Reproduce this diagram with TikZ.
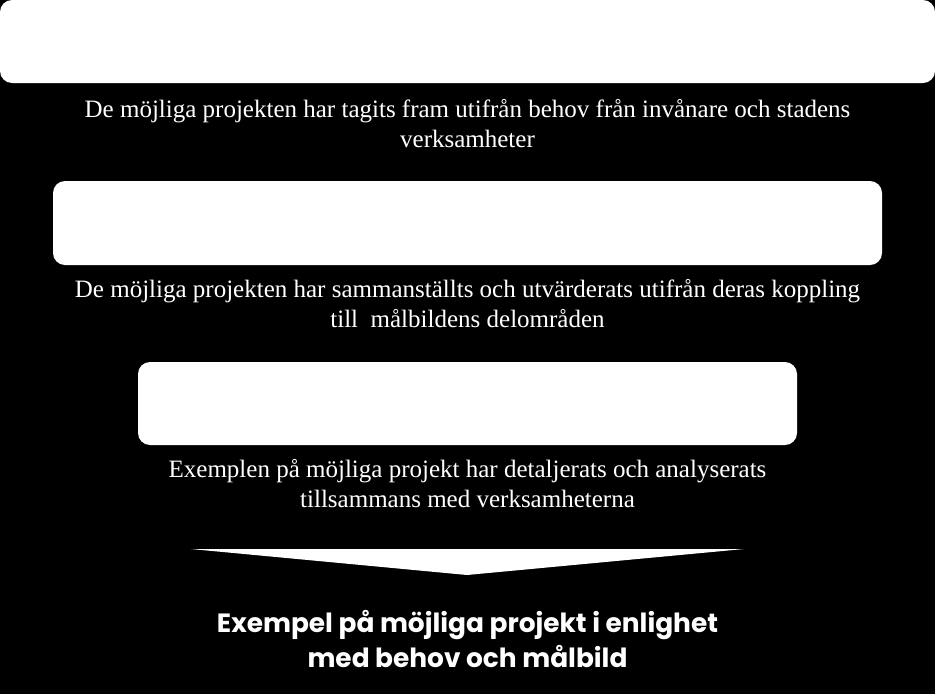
\documentclass[tikz,border=0pt]{standalone}
\usepackage{fontspec}
\setmainfont{Liberation Serif}
\newfontfamily\boldsans{Poppins}[UprightFont=* Bold]
\begin{document}
\begin{tikzpicture}[x=1pt,y=-1pt,
  stagebox/.style={fill=white,draw=none,rounded corners=12pt,inner sep=0pt},
  desc/.style={text=white,align=center,inner sep=0pt,anchor=base,
    font=\fontsize{25}{29.5}\selectfont},
  result/.style={text=white,align=center,inner sep=0pt,anchor=base,
    font=\boldsans\fontsize{26.4}{35}\selectfont}]
\useasboundingbox (0,0) rectangle (935,694);
\fill[black] (0,0) rectangle (935,694);
\node[stagebox,minimum width=935pt,minimum height=83pt] (b1) at (467.5,41.5) {};
\node[stagebox,minimum width=829pt,minimum height=84pt] (b2) at (467.5,223) {};
\node[stagebox,minimum width=659pt,minimum height=83pt] (b3) at (467.5,403.5) {};
\node[desc] (t1) at (467.5,147) {De möjliga projekten har tagits fram utifrån behov från invånare och stadens\\verksamheter};
\node[desc] (t2) at (467.5,327) {De möjliga projekten har sammanställts och utvärderats utifrån deras koppling\\till\ \ målbildens delområden};
\node[desc] (t3) at (467.5,507) {Exemplen på möjliga projekt har detaljerats och analyserats\\tillsammans med verksamheterna};
\coordinate (al) at (191,549);
\coordinate (ar) at (744,549);
\coordinate (ap) at (467,575);
\fill[white] (al) -- (ar) -- (ap) -- cycle;
\node[result] (res) at (467.5,667) {Exempel på möjliga projekt i enlighet\\med behov och målbild};
\end{tikzpicture}
\end{document}
